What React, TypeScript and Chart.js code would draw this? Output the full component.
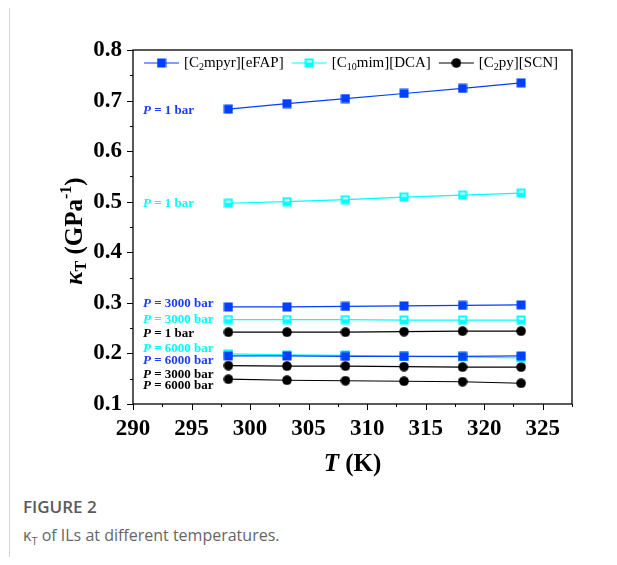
import React, { useEffect, useRef } from 'react';
import { Chart, registerables } from 'chart.js';

Chart.register(...registerables);

// ---------- data ----------
const temperatures = [298.15, 303.15, 308.15, 313.15, 318.15, 323.15];

const c2mpyr_1bar = [0.683, 0.694, 0.704, 0.714, 0.724, 0.735];
const c2mpyr_3000bar = [0.292, 0.292, 0.293, 0.294, 0.295, 0.296];
const c2mpyr_6000bar = [0.195, 0.195, 0.194, 0.194, 0.194, 0.195];

const c10mim_1bar = [0.497, 0.5, 0.504, 0.509, 0.513, 0.517];
const c10mim_3000bar = [0.267, 0.267, 0.267, 0.266, 0.266, 0.266];
const c10mim_6000bar = [0.199, 0.197, 0.196, 0.194, 0.193, 0.191];

const c2py_1bar = [0.242, 0.242, 0.242, 0.243, 0.244, 0.244];
const c2py_3000bar = [0.176, 0.175, 0.175, 0.174, 0.173, 0.173];
const c2py_6000bar = [0.149, 0.147, 0.146, 0.145, 0.144, 0.141];

const xMin = 290;
const xMax = 327.5;
const xStep = 5;
const yMin = 0.1;
const yMax = 0.8;
const yStep = 0.1;

// pressure annotations: text, anchor value (y), series
const annotationTexts = ['1 bar', '1 bar', '3000 bar', '3000 bar', '1 bar', '6000 bar', '6000 bar', '3000 bar', '6000 bar'];
const annotationValues = [0.68, 0.4955, 0.299, 0.2675, 0.24, 0.21, 0.185, 0.159, 0.1356];
const annotationSeries = ['blue', 'cyan', 'blue', 'cyan', 'black', 'cyan', 'blue', 'black', 'black'];

const BLUE = '#0040ff';
const CYAN = '#00ffff';
const BLACK = '#000000';
const colorOf: Record<string, string> = { blue: BLUE, cyan: CYAN, black: BLACK };

const SERIF = '"Liberation Serif", "Times New Roman", Times, serif';

type Run = { text: string; font: string; dy?: number };

function runsWidth(ctx: CanvasRenderingContext2D, runs: Run[]) {
  let w = 0;
  for (const r of runs) {
    ctx.font = r.font;
    w += ctx.measureText(r.text).width;
  }
  return w;
}

function drawRuns(ctx: CanvasRenderingContext2D, runs: Run[], x: number, y: number, color: string) {
  let cx = x;
  ctx.fillStyle = color;
  ctx.textBaseline = 'middle';
  ctx.textAlign = 'left';
  for (const r of runs) {
    ctx.font = r.font;
    ctx.fillText(r.text, cx, y + (r.dy || 0));
    cx += ctx.measureText(r.text).width;
  }
  return cx;
}

function makeMarker(kind: 'blue' | 'cyan' | 'black') {
  const s = 10;
  const c = document.createElement('canvas');
  c.width = s;
  c.height = s;
  const g = c.getContext('2d')!;
  if (kind === 'blue') {
    g.fillStyle = BLUE;
    g.fillRect(0.5, 0.5, 9, 9);
  } else if (kind === 'cyan') {
    g.fillStyle = CYAN;
    g.fillRect(0.5, 0.5, 9, 9);
    g.fillStyle = '#ffffff';
    g.fillRect(2.5, 2.5, 5, 2);
  } else {
    g.fillStyle = BLACK;
    g.beginPath();
    g.arc(5, 5, 4.8, 0, Math.PI * 2);
    g.fill();
  }
  return c;
}

export default function App() {
  const ref = useRef<HTMLCanvasElement | null>(null);

  useEffect(() => {
    if (!ref.current) return;
    const markers = {
      blue: makeMarker('blue'),
      cyan: makeMarker('cyan'),
      black: makeMarker('black'),
    };

    const ds = (data: number[], kind: 'blue' | 'cyan' | 'black') => ({
      data: temperatures.map((t, i) => ({ x: t, y: data[i] })),
      borderColor: colorOf[kind],
      backgroundColor: colorOf[kind],
      borderWidth: 1.2,
      pointStyle: markers[kind],
      pointRadius: 5,
      showLine: true,
      tension: 0,
    });

    const decorations = {
      id: 'decorations',
      afterDraw(chart: any) {
        const ctx: CanvasRenderingContext2D = chart.ctx;
        const area = chart.chartArea;
        const xs = chart.scales.x;
        const ys = chart.scales.y;
        ctx.save();
        // frame
        ctx.strokeStyle = '#000';
        ctx.lineWidth = 1.3;
        ctx.strokeRect(area.left, area.top, area.right - area.left, area.bottom - area.top);
        // ticks
        ctx.lineWidth = 1;
        ctx.beginPath();
        for (let v = xMin; v <= xMax + 1e-6; v += xStep / 2) {
          const major = Math.abs((v - xMin) / xStep - Math.round((v - xMin) / xStep)) < 1e-6;
          const px = Math.round(xs.getPixelForValue(v)) + 0.5;
          ctx.moveTo(px, area.bottom);
          ctx.lineTo(px, area.bottom + (major ? 6 : 3));
        }
        for (let v = yMin; v <= yMax + 1e-6; v += yStep / 2) {
          const k = (v - yMin) / yStep;
          const major = Math.abs(k - Math.round(k)) < 1e-6;
          const py = Math.round(ys.getPixelForValue(v)) + 0.5;
          ctx.moveTo(area.left, py);
          ctx.lineTo(area.left - (major ? 6 : 3), py);
        }
        ctx.stroke();

        // axis titles
        const bigB = `bold 25px ${SERIF}`;
        const bigBI = `italic bold 25px ${SERIF}`;
        const smallB = `bold 16px ${SERIF}`;
        const xt: Run[] = [
          { text: 'T', font: bigBI },
          { text: ' (K)', font: bigB },
        ];
        const xw = runsWidth(ctx, xt);
        drawRuns(ctx, xt, (area.left + area.right) / 2 - xw / 2, 457, '#000');

        const yt: Run[] = [
          { text: 'κ', font: bigBI },
          { text: 'T', font: smallB, dy: 6 },
          { text: ' (GPa', font: bigB },
          { text: '-1', font: smallB, dy: -9 },
          { text: ')', font: bigB },
        ];
        const yw = runsWidth(ctx, yt);
        ctx.save();
        ctx.translate(66, (area.top + area.bottom) / 2 + 4);
        ctx.rotate(-Math.PI / 2);
        drawRuns(ctx, yt, -yw / 2, 0, '#000');
        ctx.restore();

        // legend
        const lf = `15px ${SERIF}`;
        const lsf = `10px ${SERIF}`;
        const legendItems: { kind: 'blue' | 'cyan' | 'black'; runs: Run[] }[] = [
          { kind: 'blue', runs: [{ text: '[C', font: lf }, { text: '2', font: lsf, dy: 4 }, { text: 'mpyr][eFAP]', font: lf }] },
          { kind: 'cyan', runs: [{ text: '[C', font: lf }, { text: '10', font: lsf, dy: 4 }, { text: 'mim][DCA]', font: lf }] },
          { kind: 'black', runs: [{ text: '[C', font: lf }, { text: '2', font: lsf, dy: 4 }, { text: 'py][SCN]', font: lf }] },
        ];
        let lx = area.left + 11;
        const ly = area.top + 13;
        for (const it of legendItems) {
          ctx.strokeStyle = colorOf[it.kind];
          ctx.lineWidth = 1.2;
          ctx.beginPath();
          ctx.moveTo(lx, ly);
          ctx.lineTo(lx + 35, ly);
          ctx.stroke();
          ctx.drawImage(markers[it.kind], lx + 17.5 - 5, ly - 5);
          const end = drawRuns(ctx, it.runs, lx + 40, ly, '#000');
          lx = end + 8;
        }

        // pressure annotations
        const af = `bold 13px ${SERIF}`;
        const afi = `italic bold 13px ${SERIF}`;
        for (let i = 0; i < annotationTexts.length; i++) {
          const runs: Run[] = [
            { text: 'P', font: afi },
            { text: ' = ' + annotationTexts[i], font: af },
          ];
          const col = annotationSeries[i] === 'blue' ? '#1a3cff' : colorOf[annotationSeries[i]];
          drawRuns(ctx, runs, area.left + 10, ys.getPixelForValue(annotationValues[i]), col);
        }
        ctx.restore();
      },
    };

    const chart = new Chart(ref.current, {
      type: 'scatter',
      data: {
        datasets: [
          ds(c2mpyr_1bar, 'blue'),
          ds(c2mpyr_3000bar, 'blue'),
          ds(c2mpyr_6000bar, 'blue'),
          ds(c10mim_1bar, 'cyan'),
          ds(c10mim_3000bar, 'cyan'),
          ds(c10mim_6000bar, 'cyan'),
          ds(c2py_1bar, 'black'),
          ds(c2py_3000bar, 'black'),
          ds(c2py_6000bar, 'black'),
        ] as any,
      },
      options: {
        animation: false,
        responsive: false,
        maintainAspectRatio: false,
        devicePixelRatio: 1,
        layout: { padding: { left: 0, right: 38, top: 42, bottom: 0 } },
        plugins: { legend: { display: false }, tooltip: { enabled: false } },
        scales: {
          x: {
            type: 'linear',
            min: xMin,
            max: xMax,
            grid: { display: false, drawTicks: false },
            border: { display: false },
            ticks: {
              stepSize: xStep,
              includeBounds: false,
              padding: 11,
              color: '#000',
              font: { family: SERIF, size: 23, weight: 'bold' },
              callback: (v: any) => String(v),
            },
            afterFit: (s: any) => {
              s.height = 84;
            },
          },
          y: {
            type: 'linear',
            min: yMin,
            max: yMax,
            grid: { display: false, drawTicks: false },
            border: { display: false },
            ticks: {
              stepSize: yStep,
              padding: 11,
              color: '#000',
              font: { family: SERIF, size: 23, weight: 'bold' },
              callback: (v: any) => Number(v).toFixed(1),
            },
            afterFit: (s: any) => {
              s.width = 123;
            },
          },
        },
      } as any,
      plugins: [decorations],
    });
    return () => chart.destroy();
  }, []);

  return (
    <div
      style={{
        position: 'relative',
        width: 607,
        height: 549,
        marginLeft: 1,
        borderLeft: '1px solid #d4d4d4',
      }}
    >
      <canvas ref={ref} width={600} height={480} style={{ position: 'absolute', left: 0, top: 0, width: 600, height: 480 }} />
      <div
        style={{
          position: 'absolute',
          left: 13,
          top: 488,
          fontFamily: '"Open Sans", "Noto Sans", sans-serif',
          fontWeight: 600,
          fontSize: 17,
          lineHeight: '22px',
          color: '#5a5a5a',
        }}
      >
        FIGURE 2
      </div>
      <div
        style={{
          position: 'absolute',
          left: 13,
          top: 516,
          fontFamily: '"Open Sans", "Noto Sans", sans-serif',
          fontSize: 16,
          lineHeight: '22px',
          color: '#666',
          whiteSpace: 'nowrap',
        }}
      >
        κ<sub style={{ fontSize: 11, verticalAlign: 'sub', lineHeight: 0 }}>T</sub> of ILs at different temperatures.
      </div>
    </div>
  );
}
